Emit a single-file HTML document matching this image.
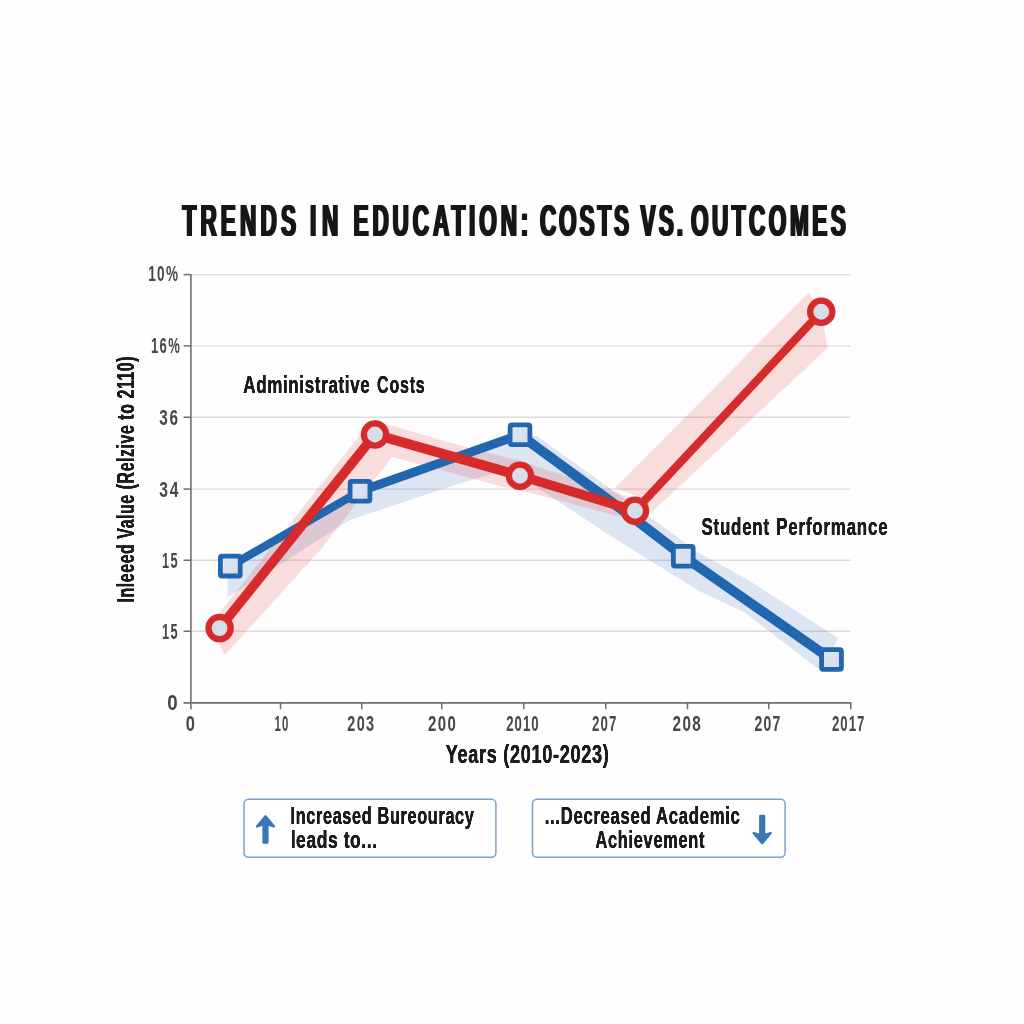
<!DOCTYPE html>
<html lang="en"><head><meta charset="utf-8"><title>Trends in Education: Costs vs. Outcomes</title>
<style>html,body{margin:0;padding:0;background:#fefefe}svg{display:block;will-change:transform}text{font-family:"Liberation Sans",sans-serif}</style></head><body>
<svg width="1024" height="1024" viewBox="0 0 1024 1024">
<defs><filter id="fat15" x="-20%" y="-20%" width="140%" height="140%" filterUnits="objectBoundingBox" primitiveUnits="userSpaceOnUse"><feOffset in="SourceGraphic" dx="-0.15" dy="0" result="a"/><feOffset in="SourceGraphic" dx="0.15" dy="0" result="b"/><feMerge><feMergeNode in="a"/><feMergeNode in="b"/><feMergeNode in="SourceGraphic"/></feMerge></filter><filter id="fat15v" x="-20%" y="-20%" width="140%" height="140%" filterUnits="objectBoundingBox" primitiveUnits="userSpaceOnUse"><feOffset in="SourceGraphic" dx="0" dy="-0.15" result="a"/><feOffset in="SourceGraphic" dx="0" dy="0.15" result="b"/><feMerge><feMergeNode in="a"/><feMergeNode in="b"/><feMergeNode in="SourceGraphic"/></feMerge></filter><filter id="fat100" x="-20%" y="-20%" width="140%" height="140%" filterUnits="objectBoundingBox" primitiveUnits="userSpaceOnUse"><feOffset in="SourceGraphic" dx="-1.0" dy="0" result="a"/><feOffset in="SourceGraphic" dx="1.0" dy="0" result="b"/><feMerge><feMergeNode in="a"/><feMergeNode in="b"/><feMergeNode in="SourceGraphic"/></feMerge></filter><linearGradient id="mk" x1="0" y1="0" x2="1" y2="1"><stop offset="0" stop-color="#e1e8f3"/><stop offset="1" stop-color="#d2dcea"/></linearGradient></defs>
<rect width="1024" height="1024" fill="#fefefe"/>
<line x1="190.9" x2="850.6" y1="274.6" y2="274.6" stroke="#dcdcdc" stroke-width="1.4"/>
<line x1="190.9" x2="850.6" y1="345.9" y2="345.9" stroke="#dcdcdc" stroke-width="1.4"/>
<line x1="190.9" x2="850.6" y1="417.25" y2="417.25" stroke="#dcdcdc" stroke-width="1.4"/>
<line x1="190.9" x2="850.6" y1="489.1" y2="489.1" stroke="#dcdcdc" stroke-width="1.4"/>
<line x1="190.9" x2="850.6" y1="560.25" y2="560.25" stroke="#dcdcdc" stroke-width="1.4"/>
<line x1="190.9" x2="850.6" y1="631.25" y2="631.25" stroke="#dcdcdc" stroke-width="1.4"/>
<g id="glows">
<polygon fill="rgba(52,98,178,0.16)" points="227.50,572.00 227.50,597.50 350.00,520.00 455.00,485.00 505.00,470.00 535.00,486.00 609.00,535.00 699.00,591.00 745.00,612.50 822.00,672.00 838.00,638.00 745.00,578.00 699.00,553.00 643.00,512.00 537.00,436.00 520.00,435.00 360.00,491.00"/>
<polygon fill="rgba(226,52,52,0.17)" points="209.00,626.00 364.00,430.00 386.00,424.00 455.00,444.00 520.00,461.00 609.00,490.00 636.00,500.00 652.00,512.00 621.00,517.00 535.00,494.00 500.00,486.00 392.00,457.00 322.00,548.00 225.00,655.00"/>
<polygon fill="rgba(226,52,52,0.17)" points="615.00,488.00 809.50,292.00 824.00,327.00 827.50,348.00 652.00,512.00 640.00,497.00"/>
</g>
<line x1="190.9" x2="190.9" y1="273.9" y2="709.3" stroke="#6f6f6f" stroke-width="1.6"/>
<line x1="183.6" x2="851.5" y1="702.9" y2="702.9" stroke="#6f6f6f" stroke-width="1.6"/>
<line x1="183.6" x2="190.9" y1="274.6" y2="274.6" stroke="#6f6f6f" stroke-width="1.5"/>
<line x1="183.6" x2="190.9" y1="345.9" y2="345.9" stroke="#6f6f6f" stroke-width="1.5"/>
<line x1="183.6" x2="190.9" y1="417.25" y2="417.25" stroke="#6f6f6f" stroke-width="1.5"/>
<line x1="183.6" x2="190.9" y1="489.1" y2="489.1" stroke="#6f6f6f" stroke-width="1.5"/>
<line x1="183.6" x2="190.9" y1="560.25" y2="560.25" stroke="#6f6f6f" stroke-width="1.5"/>
<line x1="183.6" x2="190.9" y1="631.25" y2="631.25" stroke="#6f6f6f" stroke-width="1.5"/>
<line x1="280.5" x2="280.5" y1="702.9" y2="709.3" stroke="#6f6f6f" stroke-width="1.5"/>
<line x1="361.75" x2="361.75" y1="702.9" y2="709.3" stroke="#6f6f6f" stroke-width="1.5"/>
<line x1="441.75" x2="441.75" y1="702.9" y2="709.3" stroke="#6f6f6f" stroke-width="1.5"/>
<line x1="523.75" x2="523.75" y1="702.9" y2="709.3" stroke="#6f6f6f" stroke-width="1.5"/>
<line x1="605.75" x2="605.75" y1="702.9" y2="709.3" stroke="#6f6f6f" stroke-width="1.5"/>
<line x1="687.5" x2="687.5" y1="702.9" y2="709.3" stroke="#6f6f6f" stroke-width="1.5"/>
<line x1="768.75" x2="768.75" y1="702.9" y2="709.3" stroke="#6f6f6f" stroke-width="1.5"/>
<line x1="850.75" x2="850.75" y1="702.9" y2="709.3" stroke="#6f6f6f" stroke-width="1.5"/>
<line x1="230.3" y1="566.1" x2="360" y2="491.25" stroke="#2166ae" stroke-width="8.2" stroke-linecap="round"/>
<line x1="360" y1="491.25" x2="520" y2="434.75" stroke="#2166ae" stroke-width="8.8" stroke-linecap="round"/>
<line x1="527" y1="440" x2="636" y2="520" stroke="#2166ae" stroke-width="9.9" stroke-linecap="round"/>
<line x1="636" y1="520" x2="683.25" y2="556.25" stroke="#2166ae" stroke-width="9.8" stroke-linecap="round"/>
<line x1="683.25" y1="556.25" x2="831.5" y2="659.5" stroke="#2166ae" stroke-width="9.8" stroke-linecap="round"/>
<rect x="220.40" y="556.20" width="19.8" height="19.8" rx="1.6" fill="url(#mk)" stroke="#2166ae" stroke-width="4.8"/>
<rect x="350.10" y="481.35" width="19.8" height="19.8" rx="1.6" fill="url(#mk)" stroke="#2166ae" stroke-width="4.8"/>
<rect x="510.10" y="424.85" width="19.8" height="19.8" rx="1.6" fill="url(#mk)" stroke="#2166ae" stroke-width="4.8"/>
<rect x="673.35" y="546.35" width="19.8" height="19.8" rx="1.6" fill="url(#mk)" stroke="#2166ae" stroke-width="4.8"/>
<rect x="821.60" y="649.60" width="19.8" height="19.8" rx="1.6" fill="url(#mk)" stroke="#2166ae" stroke-width="4.8"/>
<line x1="219.6" y1="628.1" x2="375" y2="434.5" stroke="#d62a2b" stroke-width="9.5" stroke-linecap="round"/>
<line x1="375" y1="434.5" x2="520" y2="475.75" stroke="#d62a2b" stroke-width="10" stroke-linecap="round"/>
<line x1="520" y1="475.75" x2="635" y2="510.75" stroke="#d62a2b" stroke-width="9.6" stroke-linecap="round"/>
<line x1="635" y1="510.75" x2="821.25" y2="311.75" stroke="#d62a2b" stroke-width="8.2" stroke-linecap="round"/>
<circle cx="219.6" cy="628.1" r="11.1" fill="#d5dde6" stroke="#d62a2b" stroke-width="6.3"/>
<circle cx="375" cy="434.5" r="11.1" fill="#d5dde6" stroke="#d62a2b" stroke-width="6.3"/>
<circle cx="520" cy="475.75" r="11.1" fill="#d5dde6" stroke="#d62a2b" stroke-width="6.3"/>
<circle cx="635" cy="510.75" r="11.1" fill="#d5dde6" stroke="#d62a2b" stroke-width="6.3"/>
<circle cx="821.25" cy="311.75" r="11.1" fill="#d5dde6" stroke="#d62a2b" stroke-width="6.3"/>
<rect x="244" y="799.25" width="251.9" height="58.1" rx="4.5" fill="#ffffff" stroke="#7da0cc" stroke-width="1.5"/>
<rect x="532.5" y="799.25" width="252.6" height="58.1" rx="4.5" fill="#ffffff" stroke="#7da0cc" stroke-width="1.5"/>
<g fill="#3a77b4" stroke="#3a77b4" stroke-linejoin="round" stroke-width="2.4"><path d="M265.5 816.3 L274 826.4 L267.4 824.4 L267.4 842.5 L263.6 842.5 L263.6 824.4 L257 826.4 Z"/><path d="M762.2 843.2 L770.7 833.1 L764.1 835.1 L764.1 816 L760.3 816 L760.3 835.1 L753.7 833.1 Z"/></g>
<g filter="url(#fat100)"><text transform="translate(182.50 235.50) scale(0.5050 1)" font-size="44.77" font-weight="bold" fill="#161616" letter-spacing="8.156">TRENDS</text></g>
<g filter="url(#fat100)"><text transform="translate(309.99 235.50) scale(0.5050 1)" font-size="44.77" font-weight="bold" fill="#161616" letter-spacing="11.495">IN</text></g>
<g filter="url(#fat100)"><text transform="translate(353.49 235.50) scale(0.5050 1)" font-size="44.77" font-weight="bold" fill="#161616" letter-spacing="7.624">EDUCATION:</text></g>
<g filter="url(#fat100)"><text transform="translate(539.99 235.50) scale(0.5050 1)" font-size="44.77" font-weight="bold" fill="#161616" letter-spacing="5.569">COSTS</text></g>
<g filter="url(#fat100)"><text transform="translate(640.50 235.50) scale(0.5050 1)" font-size="44.77" font-weight="bold" fill="#161616" letter-spacing="6.099">VS.</text></g>
<g filter="url(#fat100)"><text transform="translate(690.99 235.50) scale(0.5050 1)" font-size="44.77" font-weight="bold" fill="#161616" letter-spacing="6.853">OUTCOMES</text></g>
<text transform="translate(148.14 281.20) scale(0.6122 1)" font-size="22.09" font-weight="bold" fill="#474747" letter-spacing="2.389">10%</text>
<text transform="translate(150.91 352.80) scale(0.5913 1)" font-size="22.09" font-weight="bold" fill="#474747" letter-spacing="2.389">16%</text>
<text transform="translate(159.31 424.75) scale(0.6946 1)" font-size="22.09" font-weight="bold" fill="#474747" letter-spacing="2.556">36</text>
<text transform="translate(159.29 496.50) scale(0.7083 1)" font-size="22.09" font-weight="bold" fill="#474747" letter-spacing="2.556">34</text>
<text transform="translate(161.92 567.50) scale(0.5772 1)" font-size="22.09" font-weight="bold" fill="#474747" letter-spacing="2.556">15</text>
<text transform="translate(161.92 638.50) scale(0.5772 1)" font-size="22.09" font-weight="bold" fill="#474747" letter-spacing="2.556">15</text>
<text transform="translate(167.15 710.00) scale(0.8500 1)" font-size="22.09" font-weight="bold" fill="#474747">0</text>
<text transform="translate(185.76 730.60) scale(0.7364 1)" font-size="22.38" font-weight="bold" fill="#474747">0</text>
<text transform="translate(274.49 730.60) scale(0.5087 1)" font-size="22.38" font-weight="bold" fill="#474747" letter-spacing="2.556">10</text>
<text transform="translate(347.36 730.60) scale(0.6438 1)" font-size="22.38" font-weight="bold" fill="#474747" letter-spacing="2.000">203</text>
<text transform="translate(428.08 730.60) scale(0.6687 1)" font-size="22.38" font-weight="bold" fill="#474747" letter-spacing="2.000">200</text>
<text transform="translate(506.16 730.60) scale(0.5906 1)" font-size="22.38" font-weight="bold" fill="#474747" letter-spacing="1.778">2010</text>
<text transform="translate(591.91 730.60) scale(0.5938 1)" font-size="22.38" font-weight="bold" fill="#474747" letter-spacing="2.000">207</text>
<text transform="translate(672.57 730.60) scale(0.6813 1)" font-size="22.38" font-weight="bold" fill="#474747" letter-spacing="2.000">208</text>
<text transform="translate(754.38 730.60) scale(0.6250 1)" font-size="22.38" font-weight="bold" fill="#474747" letter-spacing="2.000">207</text>
<text transform="translate(831.91 730.60) scale(0.5906 1)" font-size="22.38" font-weight="bold" fill="#474747" letter-spacing="1.778">2017</text>
<g filter="url(#fat15)"><text transform="translate(445.69 762.50) scale(0.7116 1)" font-size="25.44" font-weight="bold" fill="#1a1a1a" letter-spacing="0.993">Years (2010-2023)</text></g>
<g filter="url(#fat15)"><text transform="translate(243.21 393.25) scale(0.6863 1)" font-size="24.71" font-weight="bold" fill="#1a1a1a" letter-spacing="0.984">Administrative</text></g>
<g filter="url(#fat15)"><text transform="translate(377.00 393.25) scale(0.6482 1)" font-size="24.71" font-weight="bold" fill="#1a1a1a" letter-spacing="1.261">Costs</text></g>
<g filter="url(#fat15)"><text transform="translate(701.47 534.50) scale(0.6842 1)" font-size="24.71" font-weight="bold" fill="#1a1a1a" letter-spacing="1.142">Student</text></g>
<g filter="url(#fat15)"><text transform="translate(776.28 534.50) scale(0.6862 1)" font-size="24.71" font-weight="bold" fill="#1a1a1a" letter-spacing="1.114">Performance</text></g>
<g filter="url(#fat15v)"><text transform="translate(133.75 602.42) rotate(-90) scale(0.6595 1)" font-size="24.13" font-weight="bold" fill="#1a1a1a" letter-spacing="0.863">Inleeed Value (Relzive to 2110)</text></g>
<g filter="url(#fat15)"><text transform="translate(290.44 824.00) scale(0.6542 1)" font-size="24.85" font-weight="bold" fill="#1a1a1a" letter-spacing="1.026">Increased Bureouracy</text></g>
<g filter="url(#fat15)"><text transform="translate(290.64 848.10) scale(0.7038 1)" font-size="24.85" font-weight="bold" fill="#1a1a1a" letter-spacing="0.835">leads to...</text></g>
<g filter="url(#fat15)"><text transform="translate(544.70 824.00) scale(0.6733 1)" font-size="24.85" font-weight="bold" fill="#1a1a1a" letter-spacing="1.005">...Decreased Academic</text></g>
<g filter="url(#fat15)"><text transform="translate(595.39 848.10) scale(0.6568 1)" font-size="24.85" font-weight="bold" fill="#1a1a1a" letter-spacing="1.152">Achievement</text></g>
</svg></body></html>
